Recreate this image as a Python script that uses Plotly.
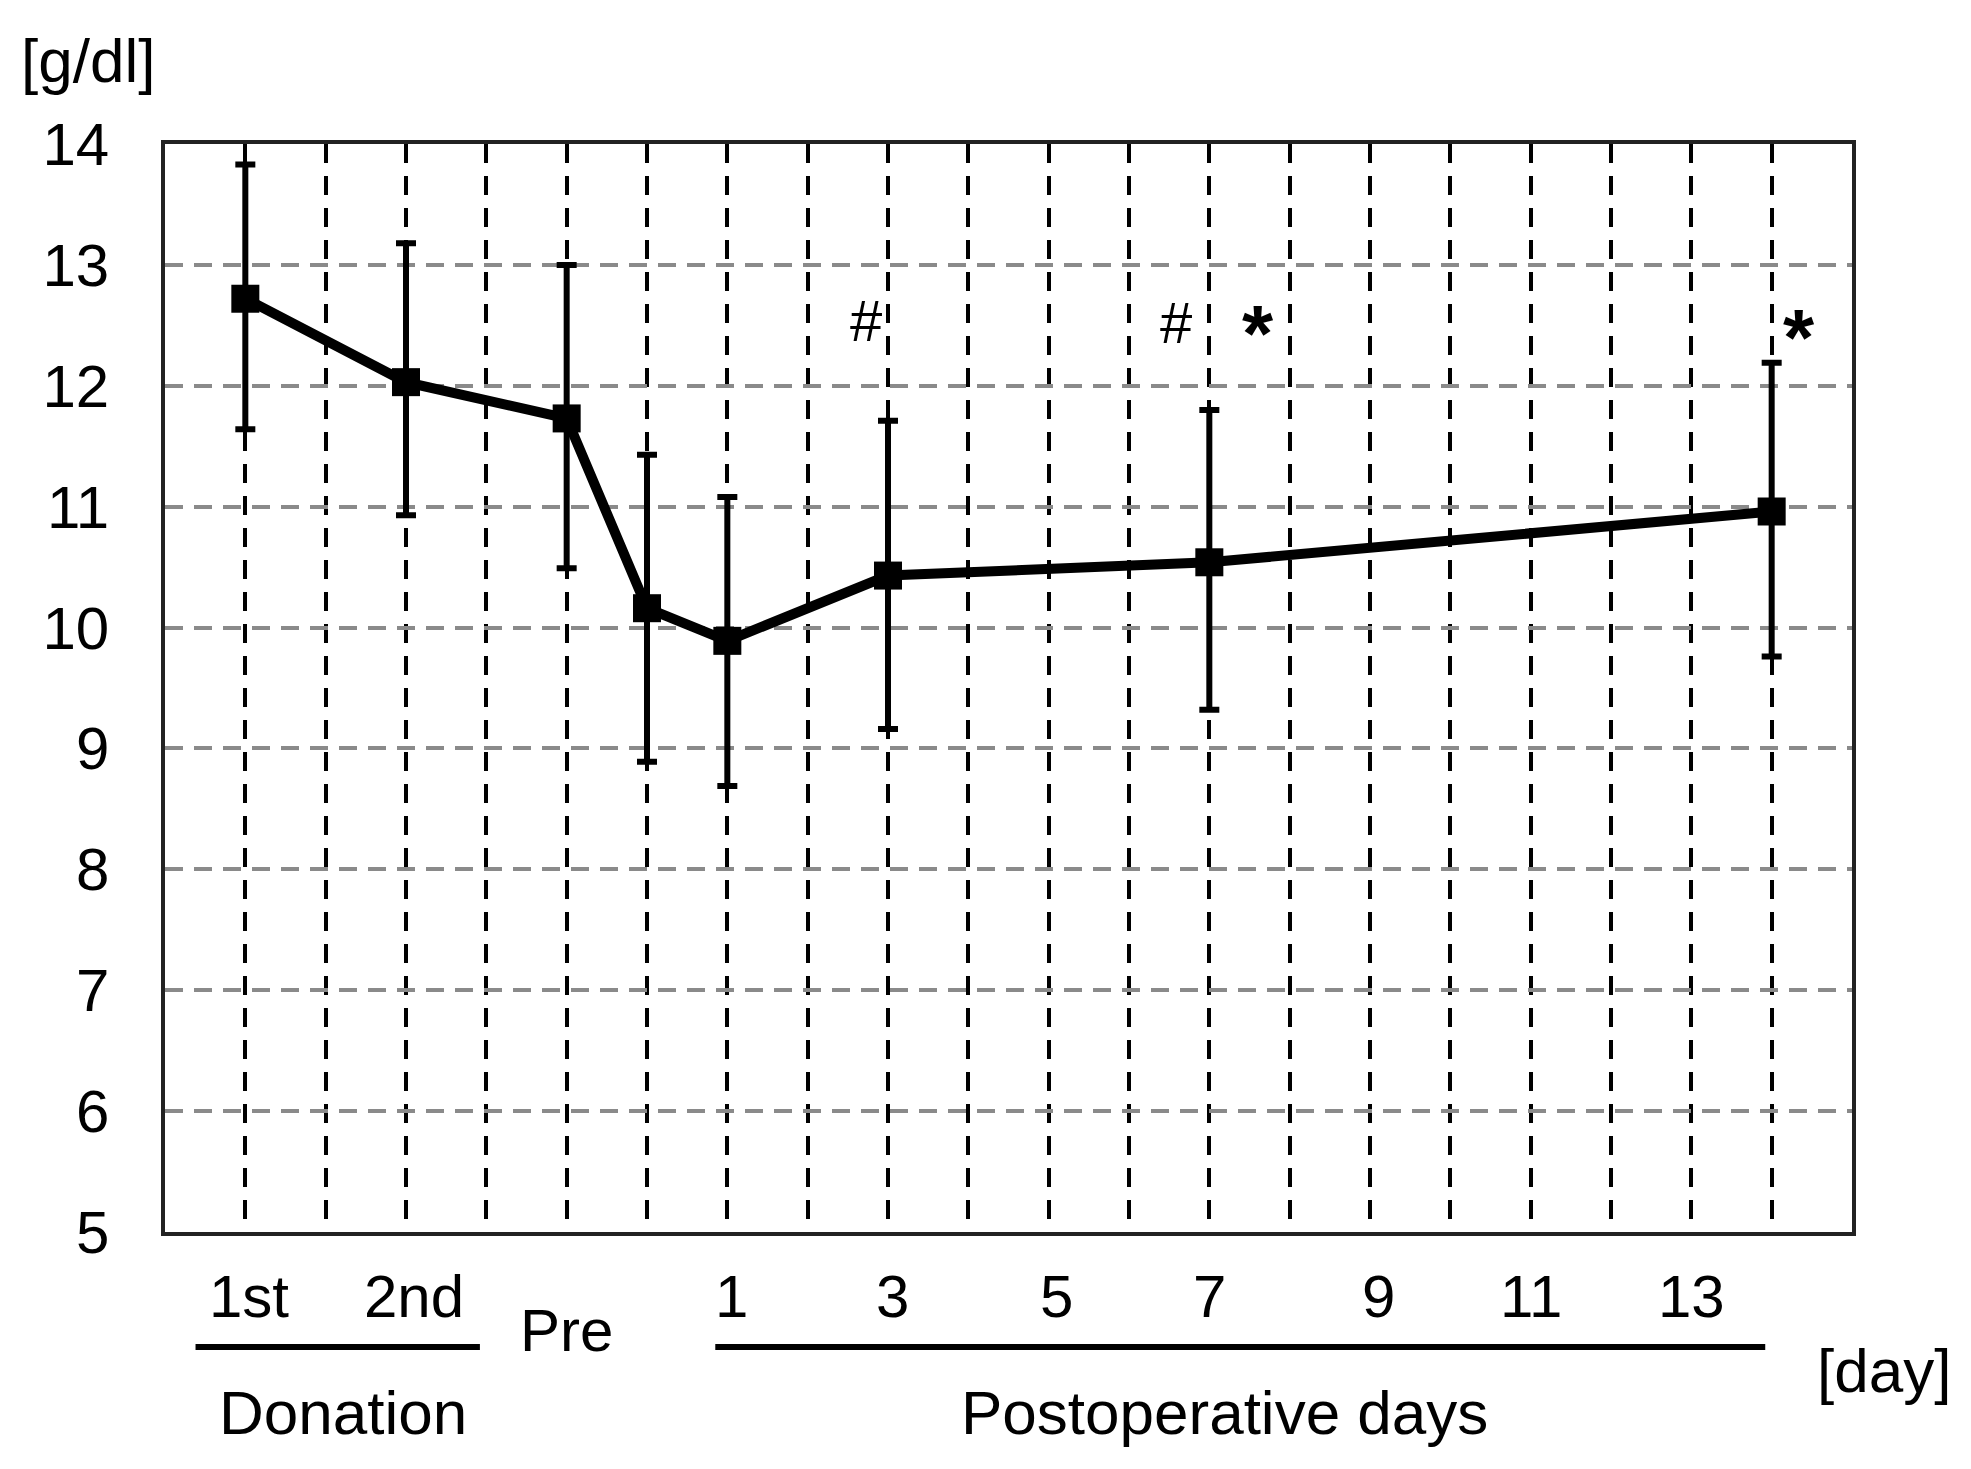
import plotly.graph_objects as go

# ---- data ----
positions = [1, 3, 5, 6, 7, 9, 13, 20]
means = [12.72, 12.03, 11.73, 10.16, 9.89, 10.43, 10.54, 10.96]
upper = [13.83, 13.18, 13.00, 11.43, 11.08, 11.71, 11.80, 12.19]
lower = [11.64, 10.93, 10.49, 8.89, 8.69, 9.16, 9.32, 9.76]

xtick_pos = [1.05, 3.1, 7.05, 9.05, 11.1, 13.0, 15.1, 17.0, 19.0]
xtick_text = ["1st", "2nd", "1", "3", "5", "7", "9", "11", "13"]
pre_pos = 5
pre_text = "Pre"

y_ticks = [5, 6, 7, 8, 9, 10, 11, 12, 13, 14]

sig_text = ["#", "#", "*", "*"]
sig_x = [8.73, 12.58, 13.61, 20.34]
sig_y = [12.54, 12.52, 12.58, 12.55]

group_text = ["Donation", "Postoperative days"]
group_center = [2.21, 13.19]
group_start = [0.38, 6.85]
group_end = [3.92, 19.92]

FONT = "Liberation Sans, Arial, sans-serif"

err_plus = [u - m for u, m in zip(upper, means)]
err_minus = [m - l for m, l in zip(means, lower)]

fig = go.Figure()
fig.add_trace(go.Scatter(
    x=positions, y=means, mode="lines+markers",
    line=dict(color="black", width=10),
    marker=dict(symbol="square", size=28, color="black"),
    error_y=dict(type="data", symmetric=False, array=err_plus, arrayminus=err_minus,
                 color="black", thickness=6, width=10),
    showlegend=False, hoverinfo="skip",
))

annotations = []
for p, t in zip(xtick_pos, xtick_text):
    annotations.append(dict(x=p, y=-0.0595, xref="x", yref="paper", text=t, showarrow=False,
                            font=dict(family=FONT, size=60, color="black"),
                            xanchor="center", yanchor="middle"))
annotations.append(dict(x=pre_pos, y=-0.0907, xref="x", yref="paper", text=pre_text, showarrow=False,
                        font=dict(family=FONT, size=60, color="black"),
                        xanchor="center", yanchor="middle"))
for t, c in zip(group_text, group_center):
    annotations.append(dict(x=c, y=-0.1658, xref="x", yref="paper", text=t, showarrow=False,
                            font=dict(family=FONT, size=62, color="black"),
                            xanchor="center", yanchor="middle"))
annotations.append(dict(x=1.0 + 0.4 / 21, y=-0.1273, xref="paper", yref="paper", text="[day]",
                        showarrow=False, font=dict(family=FONT, size=62, color="black"),
                        xanchor="center", yanchor="middle"))
annotations.append(dict(x=-0.96 / 21, y=1.077, xref="paper", yref="paper", text="[g/dl]",
                        showarrow=False, font=dict(family=FONT, size=62, color="black"),
                        xanchor="center", yanchor="middle"))
for t, x, y in zip(sig_text, sig_x, sig_y):
    if t == "*":
        annotations.append(dict(x=x, y=y, xref="x", yref="y", text="<b>*</b>", showarrow=False,
                                font=dict(family=FONT, size=80, color="black"),
                                xanchor="center", yanchor="middle", yshift=-18))
    else:
        annotations.append(dict(x=x, y=y, xref="x", yref="y", text=t, showarrow=False,
                                font=dict(family=FONT, size=58, color="black"),
                                xanchor="center", yanchor="middle"))

shapes = []
for s, e in zip(group_start, group_end):
    shapes.append(dict(type="line", xref="x", yref="paper", x0=s, x1=e, y0=-0.1058, y1=-0.1058,
                       line=dict(color="black", width=6)))

fig.update_layout(
    width=1971, height=1469, autosize=False,
    margin=dict(l=165, r=119, t=144, b=237),
    paper_bgcolor="white", plot_bgcolor="white",
    font=dict(family=FONT, size=60, color="black"),
    annotations=annotations, shapes=shapes,
)
fig.update_xaxes(
    range=[0, 21], tick0=0, dtick=1, showticklabels=False, ticks="",
    showgrid=True, gridcolor="black", gridwidth=3.5, griddash="19px,13px",
    showline=True, linecolor="#222222", linewidth=3.5, mirror=True, zeroline=False,
)
fig.update_yaxes(
    range=[5, 14], tickvals=y_ticks, ticktext=[str(v) for v in y_ticks],
    tickfont=dict(family=FONT, size=60, color="black"), ticks="", ticklabelstandoff=40,
    showgrid=True, gridcolor="#8a8a8a", gridwidth=3.5, griddash="18px,11px",
    showline=True, linecolor="#222222", linewidth=3.5, mirror=True, zeroline=False,
)

fig.write_html("out.html", config={"displayModeBar": False},
               post_script="document.body.style.margin='0';")
